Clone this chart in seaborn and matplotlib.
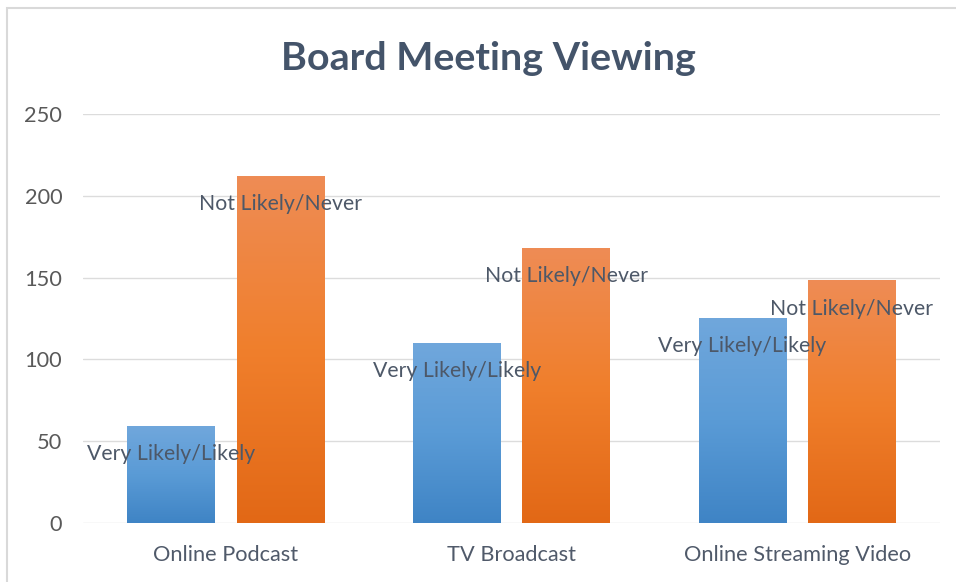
import numpy as np
import pandas as pd
import seaborn as sns
import matplotlib.pyplot as plt
from matplotlib.colors import LinearSegmentedColormap
from matplotlib.patches import Rectangle

categories = ['Online Podcast', 'TV Broadcast', 'Online Streaming Video']
series = ['Very Likely/Likely', 'Not Likely/Never']
very_likely = [59, 110, 125]
not_likely = [212, 168, 148]
y_ticks = [0, 50, 100, 150, 200, 250]

df = pd.DataFrame({
    'category': categories * 2,
    'series': [series[0]] * 3 + [series[1]] * 3,
    'value': very_likely + not_likely,
})

sns.set_style('white')
plt.rcParams['font.family'] = ['Lato', 'DejaVu Sans']

# bottom / middle / top colours of the excel-style gradient
grads = {
    series[0]: ['#3f84c5', '#5a9bd6', '#70a7dc'],
    series[1]: ['#e26816', '#f07f2c', '#ee8c55'],
}

fig = plt.figure(figsize=(9.56, 5.82), dpi=100)
ax = fig.add_axes([83 / 956, 1 - 523 / 582, 857 / 956, 409 / 582])

sns.barplot(data=df, x='category', y='value', hue='series', hue_order=series,
            order=categories, palette=['#5b9bd5', '#ed7d31'],
            width=0.766, gap=0.2, legend=False, ax=ax)

for cont, name in zip(ax.containers, series):
    cmap = LinearSegmentedColormap.from_list(name, grads[name])
    for bar in cont:
        x0, w, h = bar.get_x(), bar.get_width(), bar.get_height()
        g = np.linspace(0, 1, 256).reshape(-1, 1)
        ax.imshow(g, extent=[x0, x0 + w, 0, h], origin='lower', aspect='auto',
                  cmap=cmap, zorder=2)
        bar.set_visible(False)
        ax.annotate(name, xy=(x0 + w / 2, h), xytext=(0, -20), textcoords='offset points',
                    ha='center', va='center', fontsize=15.3, color='#4d5868', zorder=3)

ax.set_xlim(-0.5, 2.5)
ax.set_ylim(0, 250)
ax.set_yticks(y_ticks)
ax.yaxis.grid(True, color='#dcdcdc', lw=1)
ax.set_axisbelow(True)
for s in ax.spines.values():
    s.set_visible(False)
ax.tick_params(axis='both', length=0, colors='#595959', labelsize=15.7)
ax.tick_params(axis='y', pad=15)
ax.tick_params(axis='x', pad=16, labelcolor='#505a6a')
ax.set_xlabel('')
ax.set_ylabel('')

fig.text(488 / 956, 1 - 58 / 582, 'Board Meeting Viewing', ha='center', va='center',
         fontsize=28.4, fontweight='bold', color='#44546a')

# chart border (only top and left edges are inside the picture)
fig.patches.append(Rectangle((7 / 956, -0.1), 1.2, 1 - 8 / 582 + 0.1,
                             transform=fig.transFigure, fill=False,
                             edgecolor='#d9d9d9', lw=1.5))

fig.savefig('out.png', dpi=100)
